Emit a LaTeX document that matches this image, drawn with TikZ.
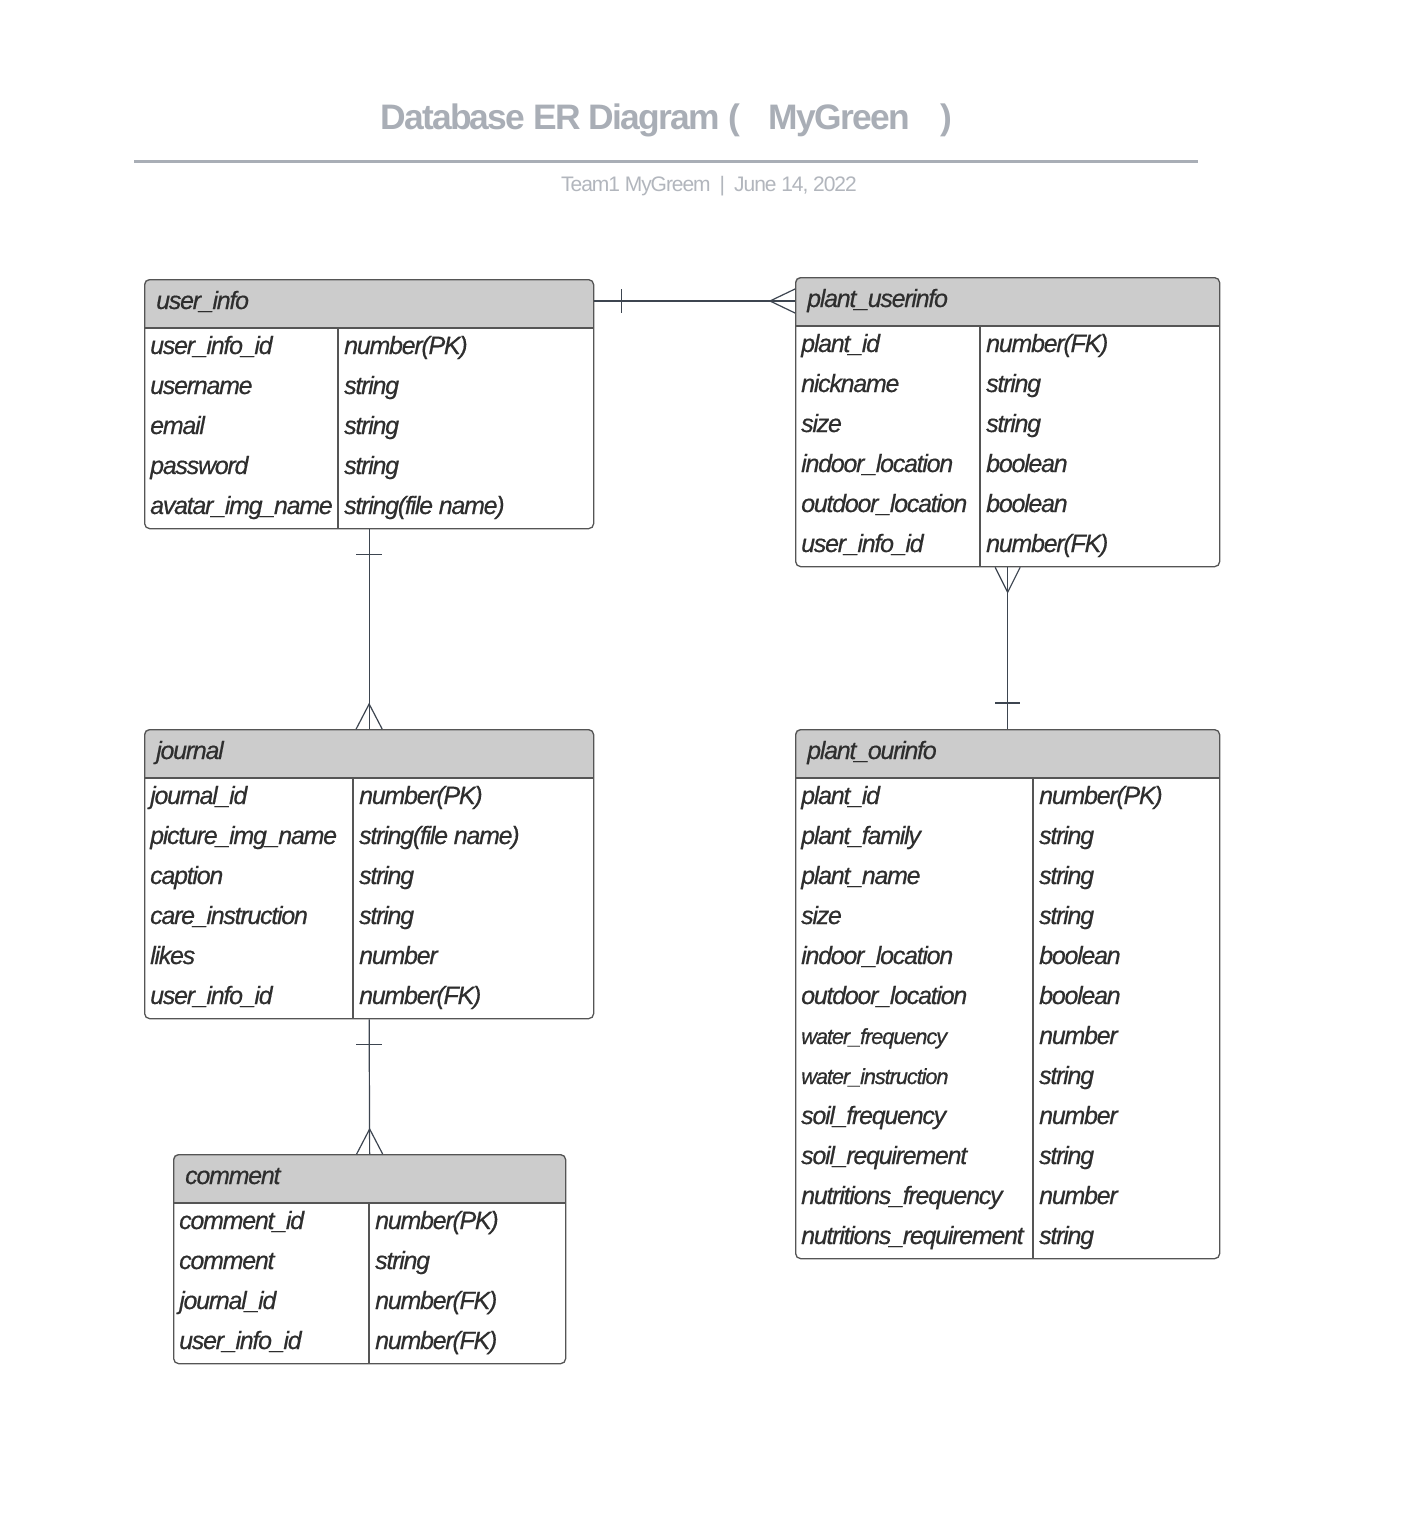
\documentclass[tikz,border=0pt]{standalone}
\usepackage{fontspec}
\usetikzlibrary{calc}
\newfontfamily\erfont{Liberation Sans}[LetterSpace=-5]
\newfontfamily\rowfont{Liberation Sans}[LetterSpace=-5, FakeBold=0.5]
\definecolor{txtc}{HTML}{2E2E2E}
\definecolor{bordc}{HTML}{555555}
\definecolor{hdrc}{HTML}{CCCCCC}
\definecolor{linec}{HTML}{3D4550}
\definecolor{titc}{HTML}{A9AEB6}
\definecolor{subc}{HTML}{B2B6BD}
\tikzset{
  ent/.style={draw=bordc, line width=1.3pt, rounded corners=5pt, inner sep=0pt, anchor=north west},
  attr/.style={anchor=base west, inner sep=0pt, text=txtc, font=\rowfont\itshape\fontsize{25}{30}\selectfont},
  hdrtext/.style={attr},
  conn/.style={draw=linec, line width=1.2pt},
  sepline/.style={draw=bordc, line width=1.3pt},
}
\newcommand\smallrow{\fontsize{21.8}{24}\selectfont}
% #1 name #2 x1 #3 y1 #4 x2 #5 xdiv #6 nrows #7 title #8 rows
\newcommand\erentity[8]{%
  \pgfmathsetmacro\ery{#3+49}%
  \pgfmathsetmacro\erybot{#3+49+40*#6}%
  \fill[hdrc, rounded corners=5pt] (#2,#3) rectangle (#4,\ery);
  \fill[hdrc] (#2,#3+10) rectangle (#4,\ery);
  \node[ent, minimum width={(#4-#2)*1pt}, minimum height={(49+40*#6)*1pt}] (#1) at (#2,#3) {};
  \draw[sepline] (#2,\ery) -- (#4,\ery);
  \draw[sepline] (#5,\ery) -- (#5,\erybot);
  \node[hdrtext] (#1-t) at (#2+12,#3+30) {#7};
  \foreach \a/\b [count=\i] in {#8} {
    \node[attr] (#1-a\i) at (#2+6,\ery+40*\i-14) {\a};
    \node[attr] (#1-b\i) at (#5+6,\ery+40*\i-14) {\b};
  }
}
\begin{document}
\begin{tikzpicture}[x=1pt,y=-1pt]
\useasboundingbox (0,0) rectangle (1403,1515);
\fill[white] (0,0) rectangle (1403,1515);
% title
\node[inner sep=0pt, text=titc, font=\erfont\bfseries\fontsize{35.4}{40}\selectfont, anchor=base] (title) at (666.5,129)
  {Database ER Diagram (\hspace{29pt}MyGreen\hspace{31pt})};
\draw[titc, line width=3pt] (134,161) -- (1198,161);
\node[inner sep=0pt, text=subc, font=\erfont\fontsize{21}{24}\selectfont, anchor=base] (subtitle) at (709,191)
  {Team1 MyGreem\hspace{9pt}|\hspace{9pt}June 14, 2022};
% entities
\erentity{ui}{144}{279}{593}{338}{5}{user\_info}{
  user\_info\_id/number(PK), username/string, email/string, password/string,
  avatar\_img\_name/string(file name)}
\erentity{pu}{795}{277}{1219}{980}{6}{plant\_userinfo}{
  plant\_id/number(FK), nickname/string, size/string, indoor\_location/boolean,
  outdoor\_location/boolean, user\_info\_id/number(FK)}
\erentity{jr}{144}{729}{593}{353}{6}{journal}{
  journal\_id/number(PK), picture\_img\_name/string(file name), caption/string,
  care\_instruction/string, likes/number, user\_info\_id/number(FK)}
\erentity{po}{795}{729}{1219}{1033}{12}{plant\_ourinfo}{
  plant\_id/number(PK), plant\_family/string, plant\_name/string, size/string,
  indoor\_location/boolean, outdoor\_location/boolean,
  {\smallrow water\_frequency}/number, {\smallrow water\_instruction}/string,
  soil\_frequency/number, soil\_requirement/string,
  nutritions\_frequency/number, nutritions\_requirement/string}
\erentity{cm}{173}{1154}{565}{369}{4}{comment}{
  comment\_id/number(PK), comment/string, journal\_id/number(FK), user\_info\_id/number(FK)}
% connectors
\coordinate (e1a) at ($(ui.north east)+(0,22)$);
\coordinate (e1b) at ($(pu.north west)+(0,24)$);
\draw[conn] (e1a) -- (e1b);
\draw[conn] ($(e1a)+(27,-12)$) -- ($(e1a)+(27,12)$);
\draw[conn] ($(e1b)+(0,-12)$) -- ($(e1b)+(-25,0)$) -- ($(e1b)+(0,12)$);
% plant_userinfo -- plant_ourinfo
\draw[conn] (pu.south) -- (po.north);
\draw[conn] ($(pu.south)+(-12.5,0)$) -- ($(pu.south)+(0,25)$) -- ($(pu.south)+(12.5,0)$);
\draw[conn] ($(po.north)+(-12.5,-26)$) -- ($(po.north)+(12.5,-26)$);
% user_info -- journal
\draw[conn] (ui.south) -- (jr.north);
\draw[conn] ($(ui.south)+(-13,25)$) -- ($(ui.south)+(13,25)$);
\draw[conn] ($(jr.north)+(-13,0)$) -- ($(jr.north)+(0,-25)$) -- ($(jr.north)+(13,0)$);
% journal -- comment
\draw[conn] (jr.south) -- (cm.north);
\draw[conn] ($(jr.south)+(-13,25)$) -- ($(jr.south)+(13,25)$);
\draw[conn] ($(cm.north)+(-13,0)$) -- ($(cm.north)+(0,-25)$) -- ($(cm.north)+(13,0)$);
\end{tikzpicture}
\end{document}
